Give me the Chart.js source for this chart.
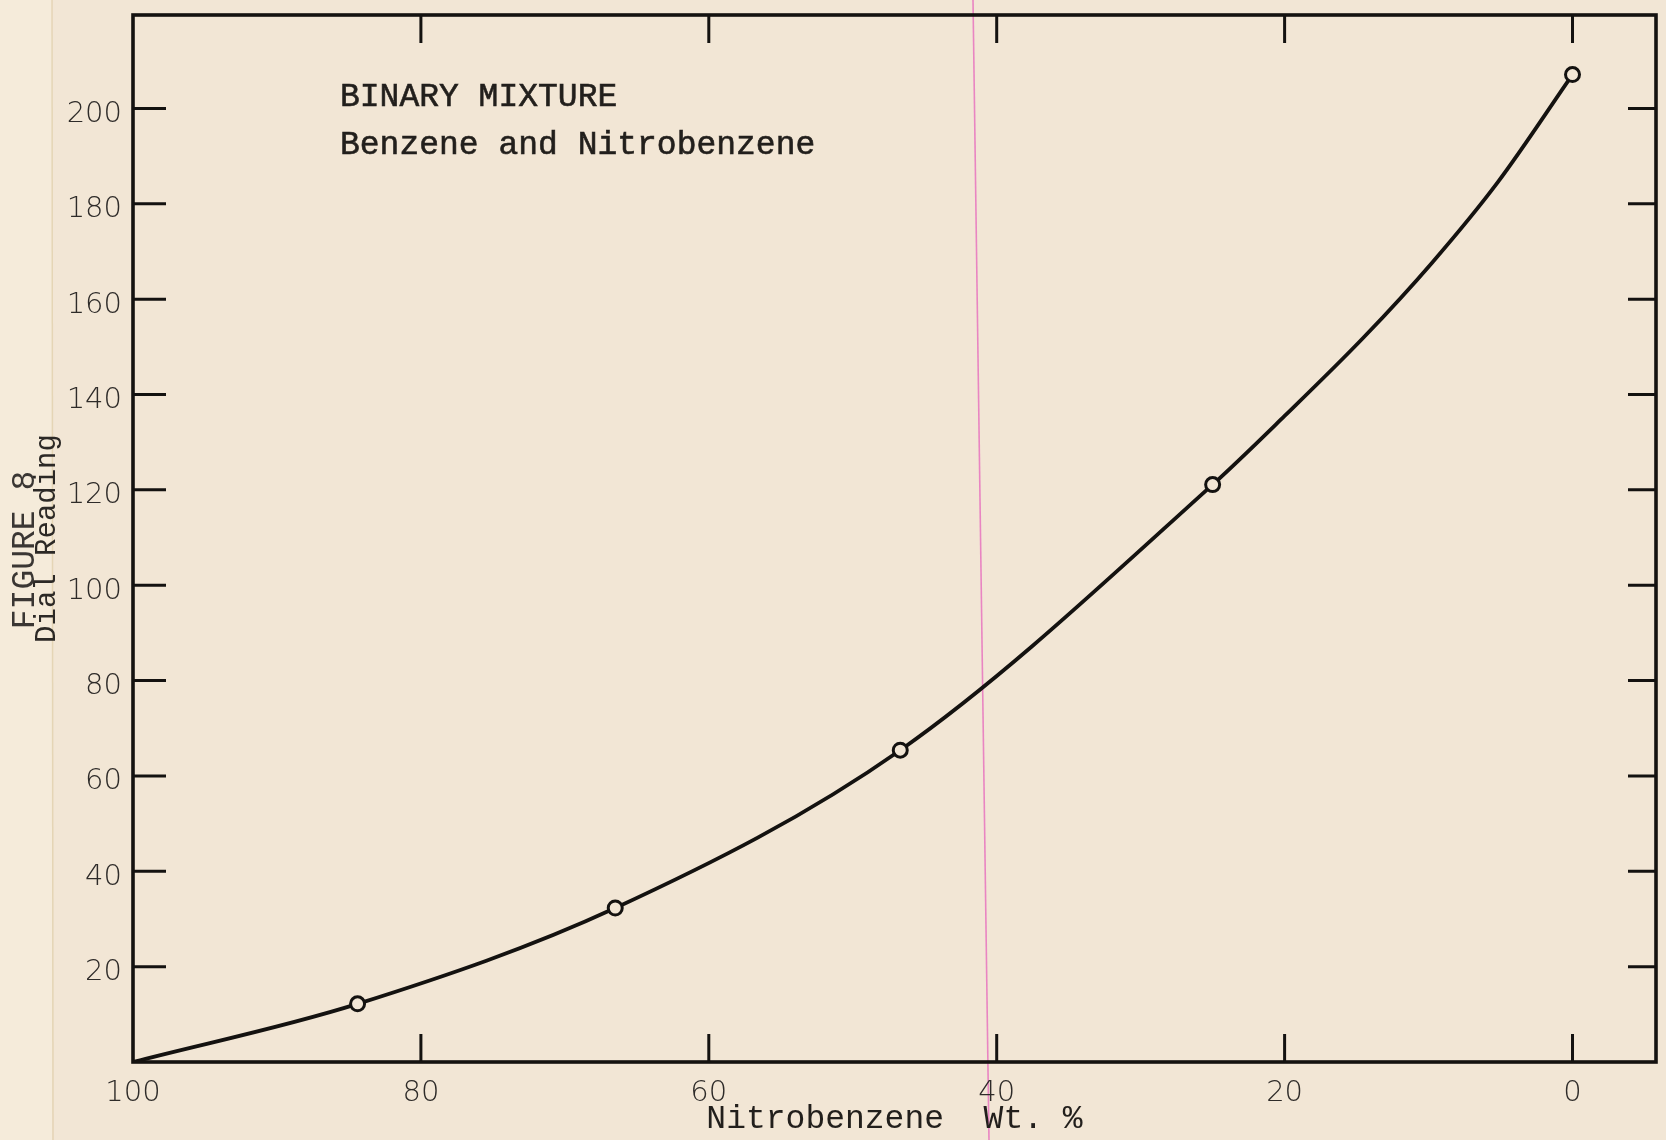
<!DOCTYPE html>
<html>
<head>
<meta charset="utf-8">
<script src="https://cdn.jsdelivr.net/npm/chart.js@4"></script>
<style>
  html, body { margin: 0; padding: 0; background: #f2e6d5; }
  #wrap { width: 1666px; height: 1140px; }
</style>
</head>
<body>
<div id="wrap"><canvas id="c" width="1666" height="1140"></canvas></div>
<script>
// ---- data ----
const xTicks = [100, 80, 60, 40, 20, 0];
const yTicks = [20, 40, 60, 80, 100, 120, 140, 160, 180, 200];
// smooth hand-drawn curve
const curveWt   = [100, 84.4, 66.5, 46.7, 25.0, 20.0, 14.5, 9.8, 5.2, 0];
const curveDial = [0, 12.2, 32.3, 65.4, 121.1, 135.5, 152.0, 167.5, 184.5, 207.1];
// measured points (open circles)
const measuredWt   = [84.4, 66.5, 46.7, 25.0, 0];
const measuredDial = [12.2, 32.3, 65.4, 121.1, 207.1];
const titleLines = ['BINARY MIXTURE', 'Benzene and Nitrobenzene'];
const xTitle = 'Nitrobenzene  Wt. %';
const yTitle = 'Dial Reading';
const figureLabel = 'FIGURE 8';

const PAPER = '#f2e6d5';
const INK = '#141210';

const paperPlugin = {
  id: 'paper',
  beforeDraw(chart) {
    const ctx = chart.ctx;
    ctx.save();
    ctx.fillStyle = PAPER;
    ctx.fillRect(0, 0, chart.width, chart.height);
    ctx.fillStyle = '#f5ebda';
    ctx.fillRect(0, 0, 52, chart.height);
    ctx.strokeStyle = 'rgba(215,195,150,0.5)';
    ctx.lineWidth = 1.5;
    ctx.beginPath(); ctx.moveTo(52, 0); ctx.lineTo(53, chart.height); ctx.stroke();
    // pink margin rule of the paper
    ctx.strokeStyle = '#e985c2';
    ctx.lineWidth = 1.6;
    ctx.beginPath(); ctx.moveTo(973, 0); ctx.lineTo(989, chart.height); ctx.stroke();
    ctx.restore();
  }
};

const framePlugin = {
  id: 'frame',
  afterDatasetsDraw(chart) {
    const {ctx, chartArea: a, scales: {x, y}} = chart;
    ctx.save();
    ctx.strokeStyle = INK;
    ctx.lineCap = 'butt';
    ctx.lineWidth = 3.6;
    ctx.strokeRect(a.left, a.top, a.right - a.left, a.bottom - a.top);
    ctx.lineWidth = 3;
    ctx.beginPath();
    xTicks.forEach(v => {
      if (v === 100) return;
      const px = x.getPixelForValue(v);
      ctx.moveTo(px, a.top); ctx.lineTo(px, a.top + 28);
      ctx.moveTo(px, a.bottom); ctx.lineTo(px, a.bottom - 28);
    });
    yTicks.forEach(v => {
      const py = y.getPixelForValue(v);
      ctx.moveTo(a.left, py); ctx.lineTo(a.left + 33, py);
      ctx.moveTo(a.right, py); ctx.lineTo(a.right - 28, py);
    });
    ctx.stroke();
    ctx.restore();
  },
  afterDraw(chart) {
    const ctx = chart.ctx;
    ctx.save();
    ctx.fillStyle = '#221f1c';
    ctx.strokeStyle = '#221f1c';
    ctx.lineWidth = 0.6;
    ctx.textBaseline = 'middle';
    ctx.textAlign = 'left';
    ctx.font = '33px "Liberation Mono", monospace';
    ctx.fillText(titleLines[0], 340, 97);
    ctx.strokeText(titleLines[0], 340, 97);
    ctx.fillText(titleLines[1], 340, 145);
    ctx.strokeText(titleLines[1], 340, 145);
    // rotated figure label in the margin
    ctx.translate(25, 550);
    ctx.rotate(-Math.PI / 2);
    ctx.textAlign = 'center';
    ctx.fillStyle = '#3a3633';
    ctx.font = '33px "Liberation Mono", monospace';
    ctx.fillText(figureLabel, 0, 0);
    ctx.restore();
  }
};

const tickFont = { family: '"DejaVu Sans", sans-serif', size: 29, weight: 200 };

new Chart(document.getElementById('c'), {
  data: {
    datasets: [
      {
        type: 'scatter',
        label: 'Measured',
        order: 0,
        data: measuredWt.map((w, i) => ({ x: w, y: measuredDial[i] })),
        pointRadius: 7,
        pointBorderWidth: 3,
        pointBackgroundColor: PAPER,
        pointBorderColor: INK,
        showLine: false
      },
      {
        type: 'line',
        label: 'Curve',
        order: 1,
        data: curveWt.map((w, i) => ({ x: w, y: curveDial[i] })),
        borderColor: INK,
        borderWidth: 3.8,
        pointRadius: 0,
        cubicInterpolationMode: 'monotone',
        fill: false
      }
    ]
  },
  options: {
    responsive: false,
    animation: false,
    events: [],
    layout: { padding: { top: 15, right: 3, left: 0, bottom: 0 } },
    plugins: { legend: { display: false }, tooltip: { enabled: false } },
    scales: {
      x: {
        type: 'linear',
        reverse: true,
        min: -5.8,
        max: 100,
        afterBuildTicks: s => { s.ticks = xTicks.map(v => ({ value: v })); },
        afterFit: s => { s.height = 78; s.paddingLeft = 0; s.paddingRight = 0; },
        grid: { display: false, drawTicks: false },
        border: { display: false },
        ticks: { font: tickFont, color: '#2e2b29', padding: 14, maxRotation: 0, autoSkip: false },
        title: {
          display: true, text: xTitle, color: '#221f1c',
          font: { family: '"Liberation Mono", monospace', size: 33 },
          padding: { top: 0, bottom: 1 }
        }
      },
      y: {
        type: 'linear',
        min: 0,
        max: 219.6,
        afterBuildTicks: s => { s.ticks = yTicks.map(v => ({ value: v })); },
        afterFit: s => { s.width = 133; s.paddingTop = 0; s.paddingBottom = 0; },
        grid: { display: false, drawTicks: false },
        border: { display: false },
        ticks: { font: tickFont, color: '#2e2b29', padding: 11, labelOffset: 6, autoSkip: false },
        title: {
          display: true, text: yTitle, color: '#2c2926',
          font: { family: '"Liberation Mono", monospace', size: 29 },
          padding: { top: 30, bottom: 0 }
        }
      }
    }
  },
  plugins: [paperPlugin, framePlugin]
});
</script>
</body>
</html>
